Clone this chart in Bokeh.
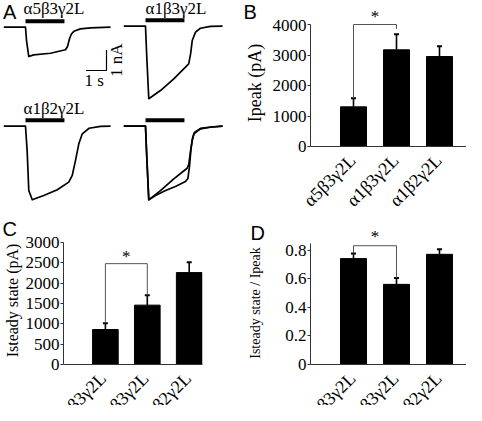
import math
from bokeh.plotting import figure
from bokeh.models import Range1d, FixedTicker, ColumnDataSource, Whisker, TeeHead
from bokeh.layouts import column, row
from bokeh.core.properties import value
from bokeh.embed import file_html
from bokeh.resources import INLINE

SERIF = "Liberation Serif"
SANS = "Liberation Sans"

# ---------------- data ----------------
categories = ["α5β3γ2L", "α1β3γ2L", "α1β2γ2L"]
positions = [1, 2, 3]

ipeak_mean = [1300, 3170, 2950]
ipeak_sem = [280, 510, 340]
ipeak_ticks = [0, 1000, 2000, 3000, 4000]

iss_mean = [860, 1460, 2260]
iss_sem = [155, 240, 255]
iss_ticks = [0, 500, 1000, 1500, 2000, 2500, 3000]

ratio_mean = [0.74, 0.56, 0.77]
ratio_sem = [0.035, 0.045, 0.035]
ratio_ticks = [0, 0.2, 0.4, 0.6, 0.8]

# significance brackets (between groups 1 and 2): level and end of right leg
ipeak_sig = {"level": 4000, "right_end": 3860}
iss_sig = {"level": 2480, "right_end": 1700}
ratio_sig = {"level": 0.83, "right_end": 0.605}

# example current traces (time in s from GABA onset, current in nA)
trace_names = ["α5β3γ2L", "α1β3γ2L", "α1β2γ2L"]
t1_t = [-1.06, 0.0, 0.05, 0.16, 0.40, 1.22, 1.95, 2.05, 2.15, 2.24, 2.36, 2.68, 3.17, 4.15]
t1_i = [0.0, 0.0, -0.65, -1.43, -1.35, -1.27, -1.10, -0.94, -0.55, -0.33, -0.20, -0.08, -0.03, 0.0]
t2_t = [-1.06, 0.0, 0.07, 0.16, 0.73, 1.38, 1.95, 2.11, 2.20, 2.28, 2.44, 2.68, 3.17, 3.76]
t2_i = [0.0, 0.0, -1.67, -3.54, -3.14, -2.57, -2.00, -1.83, -1.35, -0.70, -0.29, -0.10, -0.01, 0.0]
t3_t = [-1.06, 0.0, 0.08, 0.16, 0.33, 0.89, 1.55, 2.11, 2.28, 2.44, 2.60, 2.77, 3.10, 3.66, 4.15]
t3_i = [0.0, 0.0, -1.19, -3.14, -3.59, -3.38, -3.10, -2.73, -2.40, -1.67, -0.86, -0.37, -0.10, -0.01, 0.0]
t4a_t = [-1.06, 0.0, 0.07, 0.16, 0.73, 1.38, 2.03, 2.11, 2.20, 2.28, 2.36, 2.68, 3.17, 3.76]
t4a_i = [0.0, 0.0, -1.67, -3.59, -3.14, -2.57, -2.05, -1.87, -1.19, -0.70, -0.37, -0.13, -0.05, 0.0]
t4b_t = [-1.06, 0.0, 0.07, 0.16, 0.49, 0.98, 1.46, 1.95, 2.07, 2.15, 2.22, 2.29, 2.39, 2.68, 3.17, 3.76]
t4b_i = [0.0, 0.0, -1.67, -3.59, -3.38, -3.14, -2.94, -2.70, -2.55, -1.92, -1.09, -0.60, -0.31, -0.11, -0.04, 0.0]
app_duration = 1.9     # s, GABA application bar
scale_t = 1.0          # s
scale_i = 1.0          # nA


def blank(W, H, xr, yr):
    f = figure(width=W, height=H, output_backend="svg", toolbar_location=None,
               x_axis_type=None, y_axis_type=None, min_border=0, x_range=xr, y_range=yr)
    f.frame_align = False
    f.outline_line_color = None
    f.background_fill_color = "white"
    f.border_fill_color = "white"
    return f


def txt(f, x, y, s, font=SERIF, size="17px", align="left", baseline="middle",
        angle=0.0, x_offset=0):
    f.text(x=x, y=y, text=s, text_font=value(font), text_font_size=size,
           text_align=align, text_baseline=baseline, angle=angle, x_offset=x_offset,
           text_color="black")


# ---------------- panel A ----------------
PX = 20.5  # px per s and per nA
WA, HA = 241, 210
pa = blank(WA, HA, Range1d(0, WA / PX), Range1d(-HA / PX, 0))


def ax(px):
    return px / PX


def ay(py):
    return -py / PX


origins = [(25, 26.7), (145, 25.7), (25, 125.7), (145, 125.7)]
traces = [[(t1_t, t1_i)], [(t2_t, t2_i)], [(t3_t, t3_i)], [(t4a_t, t4a_i), (t4b_t, t4b_i)]]
for (ox, oy), tr in zip(origins, traces):
    for tt, ii in tr:
        pa.line([ax(ox) + t for t in tt], [ay(oy) + i for i in ii],
                line_color="black", line_width=1.7, line_join="round")
    by = ay(oy - 6)
    pa.segment(x0=[ax(ox)], y0=[by], x1=[ax(ox) + app_duration], y1=[by],
               line_color="black", line_width=4, line_cap="butt")

label_pos = [(23, 8), (145, 8), (23, 108)]
for (lx, ly), name in zip(label_pos, trace_names):
    txt(pa, [ax(lx)], [ay(ly)], [name])

cx, cy = 106, 70
pa.line([ax(cx) - scale_t, ax(cx), ax(cx)], [ay(cy), ay(cy), ay(cy) + scale_i],
        line_color="black", line_width=1.2)
txt(pa, [ax(cx) - scale_t / 2 - ax(2)], [ay(80)], ["1 s"], align="center")
txt(pa, [ax(115.5)], [ay(cy) + scale_i / 2], ["1 nA"], align="center", angle=math.pi / 2)
txt(pa, [ax(2.5)], [ay(11.7)], ["A"], font=SANS, size="20px")


# ---------------- bar panels ----------------
def bar_panel(W, H, ml, mr, mb, unit, ypx, means, sems, ticks, bound_top, sig,
              ylabel, ylabel_size, ylabel_standoff, star_in_frame, overrides=None):
    fw = W - ml - mr
    fh = H - mb
    p = figure(width=W, height=H, output_backend="svg", toolbar_location=None,
               x_range=Range1d(0, fw / unit), y_range=Range1d(0, fh / ypx),
               min_border_left=ml, min_border_right=mr, min_border_top=0,
               min_border_bottom=mb)
    p.frame_align = False
    p.outline_line_color = None
    p.grid.visible = False
    p.background_fill_color = "white"
    p.border_fill_color = "white"

    src = ColumnDataSource(dict(x=positions, top=means,
                                upper=[m + s for m, s in zip(means, sems)]))
    p.vbar(x="x", top="top", bottom=0, width=26 / unit, source=src,
           fill_color="black", line_color="black")
    p.add_layout(Whisker(source=src, base="x", lower="top", upper="upper",
                         dimension="height", line_color="black", line_width=1.6,
                         upper_head=TeeHead(size=5, line_color="black", line_width=2),
                         lower_head=None))

    x1, x2 = positions[0], positions[1]
    p.line([x1, x1, x2, x2], [means[0] + sems[0], sig["level"], sig["level"], sig["right_end"]],
           line_color="#555555", line_width=1)
    if star_in_frame:
        txt(p, [(x1 + x2) / 2], [sig["level"] + 6.9 / ypx], ["*"], align="center")

    yax = p.yaxis[0]
    yax.ticker = FixedTicker(ticks=ticks)
    yax.bounds = (0, bound_top)
    yax.minor_tick_line_color = None
    yax.major_tick_in = 0
    yax.major_tick_out = 3
    yax.major_label_standoff = 1
    yax.axis_line_color = "#333333"
    yax.major_tick_line_color = "#333333"
    yax.major_label_text_font = SERIF
    yax.major_label_text_font_size = "17px"
    yax.major_label_text_color = "black"
    yax.axis_label = ylabel
    yax.axis_label_text_font = SERIF
    yax.axis_label_text_font_size = ylabel_size
    yax.axis_label_text_font_style = "normal"
    yax.axis_label_text_color = "black"
    yax.axis_label_standoff = ylabel_standoff
    if overrides:
        yax.major_label_overrides = overrides

    xax = p.xaxis[0]
    xax.ticker = FixedTicker(ticks=[])
    xax.minor_tick_line_color = None
    xax.major_tick_line_color = None
    xax.major_tick_out = 0
    xax.major_label_standoff = 0
    xax.axis_line_color = "#333333"
    return p


def header(W, H, ml, unit, letter, letter_px, star_px=None):
    s = blank(W, H, Range1d(-ml / unit, (W - ml) / unit), Range1d(-H, 0))
    txt(s, [(letter_px[0] - ml) / unit], [-letter_px[1]], [letter], font=SANS, size="20px")
    if star_px is not None:
        txt(s, [(positions[0] + positions[1]) / 2], [-star_px], ["*"], align="center")
    return s


def catlabels(W, H, ml, unit, y_px):
    s = blank(W, H, Range1d(-ml / unit, (W - ml) / unit), Range1d(-H, 0))
    txt(s, positions, [-y_px] * len(positions), categories, size="18px", align="right",
        baseline="middle", angle=math.pi / 4, x_offset=-1)
    return s


# B: x 241-466, y 0-210
hb = header(225, 19, 69, 43, "B", (2, 11.7), star_px=16.1)
pb = bar_panel(225, 135, 69, 0, 8, 43, 122 / 4000, ipeak_mean, ipeak_sem, ipeak_ticks,
               4000, ipeak_sig, "Ipeak (pA)", "18px", 5, False)
lb = catlabels(225, 56, 69, 43, 3)

# C: x 0-241, y 210-405
hc = header(241, 26, 61, 42.5, "C", (2, 18.5))
pc = bar_panel(241, 136, 61, 39, 8, 42.5, 122 / 3000, iss_mean, iss_sem, iss_ticks,
               3000, iss_sig, "Isteady state (pA)", "16px", 2, True)
lc = catlabels(241, 33, 61, 42.5, 3)

# D: x 241-466, y 210-405
hd = header(225, 31, 69, 43, "D", (9, 22.5), star_px=25.6)
pd = bar_panel(225, 131, 69, 0, 8, 43, 143.1, ratio_mean, ratio_sem, ratio_ticks,
               0.845, ratio_sig, "Isteady state / Ipeak", "14px", 19, False,
               overrides={0: "0"})
ld = catlabels(225, 33, 69, 43, 3)

layout = column(row(pa, column(hb, pb, lb)),
                row(column(hc, pc, lc), column(hd, pd, ld)))
open("out.html", "w").write(file_html(layout, INLINE))
